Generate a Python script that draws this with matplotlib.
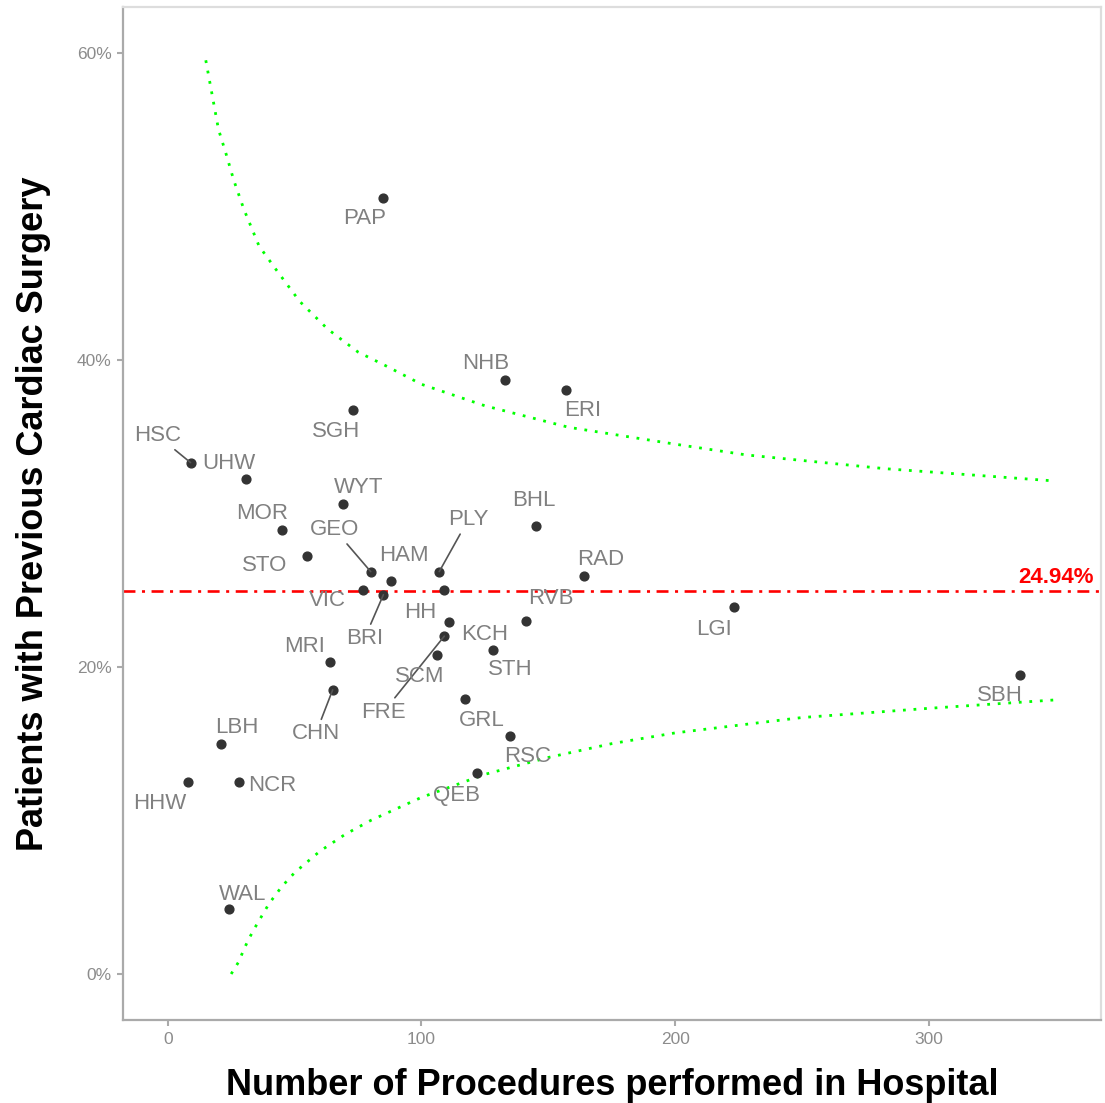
import matplotlib
matplotlib.use('Agg')
import matplotlib.pyplot as plt
from matplotlib.ticker import FuncFormatter

# 字体设置：Liberation Sans 与 Arial 等宽
plt.rcParams['font.family'] = ['Liberation Sans', 'DejaVu Sans']
plt.rcParams['lines.scale_dashes'] = False

# 第一步 医院数据（手术数量, 既往心脏手术比例 %）
hospitals = ['PAP', 'NHB', 'ERI', 'SGH', 'HSC', 'UHW', 'MOR', 'WYT', 'STO', 'GEO', 'HAM',
             'VIC', 'BRI', 'PLY', 'HH', 'KCH', 'FRE', 'SCM', 'STH', 'MRI', 'CHN', 'GRL',
             'RVB', 'BHL', 'RAD', 'RSC', 'QEB', 'LGI', 'SBH', 'LBH', 'HHW', 'NCR', 'WAL']
procedures = [85, 133, 157, 73, 9, 31, 45, 69, 55, 80, 88,
              77, 85, 107, 109, 111, 109, 106, 128, 64, 65, 117,
              141, 145, 164, 135, 122, 223, 336, 21, 8, 28, 24]
prev_surgery = [50.5, 38.7, 38.0, 36.7, 33.3, 32.2, 28.9, 30.6, 27.2, 26.2, 25.6,
                25.0, 24.7, 26.2, 25.0, 22.9, 22.0, 20.8, 21.1, 20.3, 18.5, 17.9,
                23.0, 29.2, 25.9, 15.5, 13.1, 23.9, 19.5, 15.0, 12.5, 12.5, 4.2]
mean_rate = 24.94

# 第二步 控制限
upper_n = [15, 18, 20, 23, 26, 30, 36, 43, 52, 63, 75, 86, 100, 125, 158, 200, 228, 283, 350]
upper_limit = [59.5, 56.8, 55.0, 53.4, 51.7, 49.8, 47.4, 45.8, 43.8, 42.0, 40.5, 39.6,
               38.4, 37.0, 35.6, 34.5, 33.8, 32.9, 32.1]
lower_n = [25, 28, 30, 32, 35, 40, 45, 50, 60, 70, 80, 100, 125, 150, 175, 200, 250, 300, 350]
lower_limit = [0.0, 0.8, 1.6, 2.3, 3.2, 4.6, 5.7, 6.6, 8.0, 9.1, 10.0, 11.5, 13.0, 14.1,
               15.0, 15.7, 16.7, 17.3, 17.85]

# 标签偏移（像素，右/上为正）
label_offsets = {
    'PAP': (-19, -18), 'NHB': (-20, 18), 'ERI': (17, -18), 'SGH': (-17, -19),
    'HSC': (-33, 29), 'UHW': (-18, 18), 'MOR': (-20, 19), 'WYT': (16, 19),
    'STO': (-43, -7), 'GEO': (-36, 44), 'HAM': (13, 27), 'VIC': (-36, -8),
    'BRI': (-19, -42), 'PLY': (29, 54), 'HH': (-24, -20), 'KCH': (35, -10),
    'FRE': (-61, -74), 'SCM': (-17, -20), 'STH': (18, -18), 'MRI': (-26, 18),
    'CHN': (-17, -42), 'GRL': (17, -19), 'RVB': (25, 24), 'BHL': (-2, 27),
    'RAD': (17, 19), 'RSC': (17, -19), 'QEB': (-21, -21), 'LGI': (-20, -21),
    'SBH': (-20, -19), 'LBH': (16, 18), 'HHW': (-28, -19), 'NCR': (33, -1),
    'WAL': (14, 17),
}
leader = ['HSC', 'GEO', 'BRI', 'PLY', 'FRE', 'CHN']

# 第三步 画图
fig = plt.figure(figsize=(11.05, 11.03), dpi=100)
ax = fig.add_axes([0.1116, 0.0752, 0.8848, 0.9182])

ax.plot(upper_n, upper_limit, color='#00ff00', lw=2.0, linestyle=(0, (2.0, 5.6)))
ax.plot(lower_n, lower_limit, color='#00ff00', lw=2.0, linestyle=(0, (2.0, 5.6)))
ax.axhline(mean_rate, color='red', lw=1.9, linestyle=(0, (8.6, 4.7, 2.2, 4.7)))
ax.text(350, 25.45, f'{mean_rate:.2f}%', color='red', fontsize=16, fontweight='bold',
        ha='center', va='baseline')

ax.scatter(procedures, prev_surgery, s=40, color='#333333', zorder=3)

for name, x, y in zip(hospitals, procedures, prev_surgery):
    dx, dy = label_offsets[name]
    arrow = None
    if name in leader:
        arrow = dict(arrowstyle='-', color='#555555', lw=1.2, shrinkA=1, shrinkB=0)
    ax.annotate(name, xy=(x, y), xytext=(dx * 0.72, (dy - 2) * 0.72),
                textcoords='offset points', ha='center', va='center',
                fontsize=16, color='#808080', arrowprops=arrow, zorder=4)

ax.set_xlim(-17.5, 367.8)
ax.set_ylim(-3.0, 62.95)
ax.set_xticks([0, 100, 200, 300])
ax.set_yticks([0, 20, 40, 60])
ax.yaxis.set_major_formatter(FuncFormatter(lambda v, p: f'{v:.0f}%'))
ax.tick_params(colors='#aaaaaa', labelcolor='#8c8c8c', labelsize=12.5, length=4.5, width=1.5, pad=4)

for side in ['left', 'bottom']:
    ax.spines[side].set_color('#aaaaaa')
    ax.spines[side].set_linewidth(1.6)
for side in ['top', 'right']:
    ax.spines[side].set_color('#dddddd')
    ax.spines[side].set_linewidth(1.6)

fig.text(0.0299, 0.5345, 'Patients with Previous Cardiac Surgery', rotation=90,
         ha='center', va='center', fontsize=26, fontweight='bold', color='black')
fig.text(0.5538, 0.0073, 'Number of Procedures performed in Hospital',
         ha='center', va='baseline', fontsize=26, fontweight='bold', color='black')

fig.savefig('out.png', dpi=100)
